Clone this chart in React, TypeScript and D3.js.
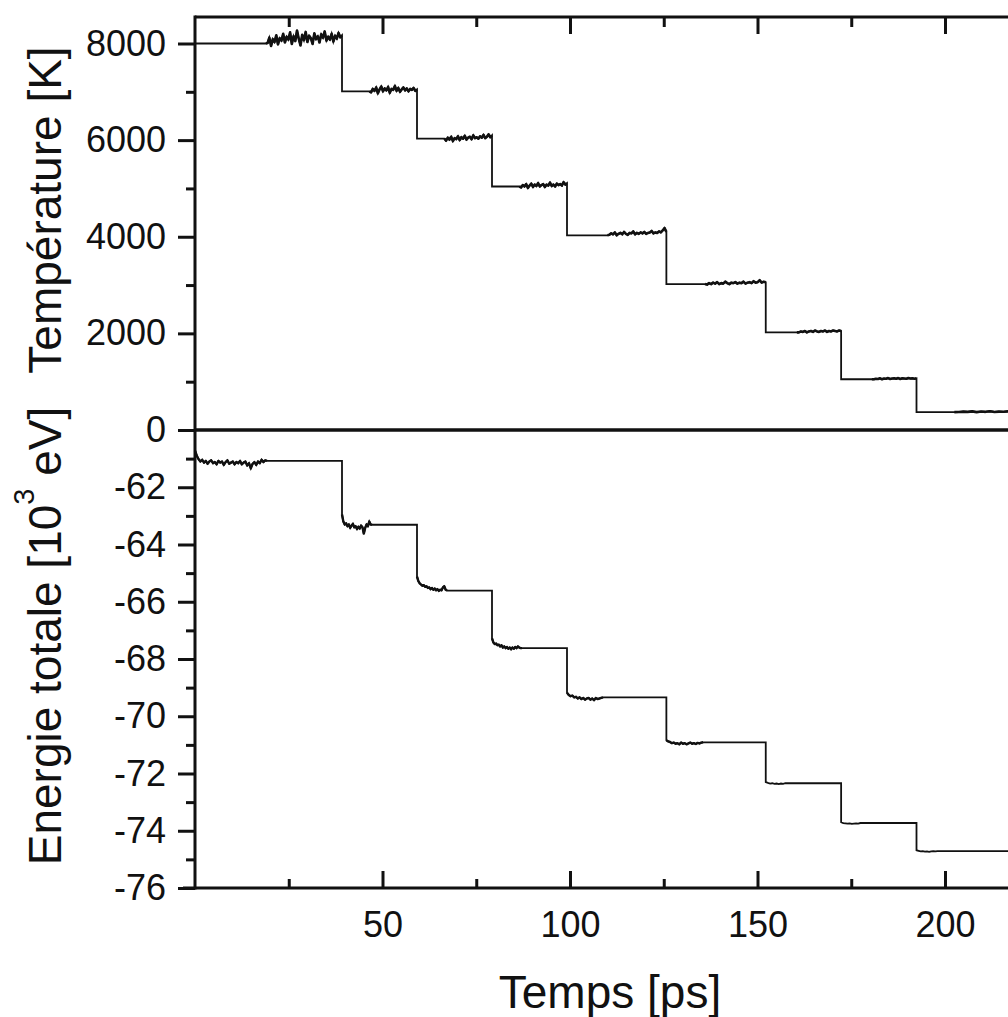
import React, { useRef, useEffect } from "react";
import * as d3 from "d3";

// début de chaque palier de température (ps)
const stepStart = [0, 39.2, 59.2, 79.2, 99.2, 125.7, 152.2, 172.3, 192.4];
const timeEnd = 250;

// panneau du haut : température [K]
const tempLevel = [8000, 7010, 6030, 5040, 4030, 3020, 2020, 1050, 370];
const tempNoiseStart = [18.9, 46.5, 66.5, 86.5, 110, 136, 160.5, 180.5, 202.5];

const tempNoise1 = [8010, 8120, 7950, 8090, 8030, 8170, 7980, 8110, 8060, 8200, 8020, 8140,
  8080, 8230, 7990, 8150, 8050, 8270, 8100, 7960, 8180, 8070, 8240, 8030, 8160, 8110, 7990,
  8210, 8090, 8150, 8020, 8190, 8120, 8250, 8060, 8140, 8080, 8200, 8040, 8160, 8100, 8220, 8130, 8170];
const tempNoise2 = [6990, 7060, 7020, 7090, 6970, 7050, 7110, 7010, 7070, 7030, 7100, 6980, 7060,
  7040, 7120, 7020, 7080, 7000, 7050, 7090, 7030, 7070, 7010, 7060, 7040, 7080, 7020, 7050];
const tempNoise3 = [5990, 6050, 6010, 6070, 5980, 6040, 6020, 6080, 6000, 6060, 6030, 6090, 6010,
  6050, 6070, 6020, 6100, 6040, 6060, 6030, 6080, 6050, 6110, 6040, 6070, 6120, 6060, 6100];
const tempNoise4 = [5020, 5070, 5040, 5090, 5010, 5060, 5100, 5030, 5080, 5050, 5110, 5040, 5070,
  5090, 5030, 5080, 5060, 5120, 5050, 5080, 5040, 5100, 5070, 5090, 5060, 5130, 5080, 5110];
const tempNoise5 = [4040, 4070, 4050, 4090, 4030, 4060, 4080, 4050, 4100, 4060, 4040, 4080, 4070,
  4110, 4050, 4080, 4060, 4090, 4070, 4100, 4060, 4080, 4090, 4120, 4070, 4090, 4080, 4110, 4090,
  4130, 4180, 4100];
const tempNoise6 = [3010, 3040, 3020, 3050, 3030, 3060, 3020, 3040, 3030, 3070, 3040, 3020, 3050,
  3040, 3060, 3030, 3050, 3040, 3070, 3030, 3050, 3060, 3040, 3080, 3050, 3060, 3100, 3050, 3070, 3060];
const tempNoise7 = [2020, 2040, 2030, 2050, 2020, 2040, 2050, 2030, 2060, 2040, 2030, 2050, 2040,
  2060, 2030, 2050, 2040, 2060, 2050, 2040, 2060, 2050];
const tempNoise8 = [1050, 1060, 1055, 1070, 1050, 1065, 1060, 1075, 1055, 1065, 1070, 1060, 1075,
  1055, 1070, 1065, 1060, 1075, 1065, 1070, 1060, 1070];
const tempNoise9 = [372, 380, 375, 385, 370, 382, 376, 388, 374, 381, 377, 386, 372, 380, 384, 375,
  382, 378, 387, 373, 381, 376, 385, 379, 374, 383, 377, 386, 380, 375, 384, 378, 382, 374, 386,
  379, 383, 376, 381, 378];
const tempNoise = [tempNoise1, tempNoise2, tempNoise3, tempNoise4, tempNoise5, tempNoise6,
  tempNoise7, tempNoise8, tempNoise9];

// panneau du bas : énergie totale [10^3 eV]
const energyLevel = [-61.08, -63.31, -65.61, -67.62, -69.34, -70.91, -72.34, -73.73, -74.71];
const energyNoiseEnd = [19.2, 47.2, 67.2, 87.2, 108.8, 135.5, 158, 178, 198];

const energyNoise1 = [-60.72, -60.9, -61.02, -61.1, -61.04, -61.14, -61.08, -61.18, -61.1, -61.06,
  -61.16, -61.12, -61.2, -61.08, -61.14, -61.1, -61.22, -61.12, -61.06, -61.18, -61.14, -61.1,
  -61.2, -61.12, -61.16, -61.08, -61.2, -61.14, -61.1, -61.24, -61.16, -61.34, -61.18, -61.12,
  -61.22, -61.1, -61.16, -61.04, -61.12, -61.06];
const energyNoise2 = [-62.95, -63.2, -63.3, -63.26, -63.36, -63.3, -63.42, -63.34, -63.28, -63.4,
  -63.36, -63.46, -63.38, -63.44, -63.34, -63.4, -63.62, -63.42, -63.3, -63.36, -63.2, -63.3];
const energyNoise3 = [-65.12, -65.28, -65.36, -65.4, -65.44, -65.42, -65.48, -65.46, -65.52, -65.5,
  -65.56, -65.52, -65.58, -65.54, -65.6, -65.56, -65.62, -65.58, -65.6, -65.5, -65.46, -65.58];
const energyNoise4 = [-67.28, -67.42, -67.48, -67.46, -67.52, -67.5, -67.56, -67.52, -67.6, -67.56,
  -67.62, -67.58, -67.64, -67.6, -67.66, -67.6, -67.64, -67.58, -67.62, -67.56, -67.6, -67.62];
const energyNoise5 = [-69.18, -69.26, -69.3, -69.28, -69.34, -69.32, -69.38, -69.34, -69.4, -69.36,
  -69.42, -69.38, -69.36, -69.42, -69.38, -69.44, -69.36, -69.4, -69.38, -69.36];
const energyNoise6 = [-70.84, -70.88, -70.9, -70.94, -70.92, -70.96, -70.94, -70.98, -70.92, -70.96,
  -70.94, -70.98, -70.95, -70.92, -70.96, -70.94, -70.97, -70.93, -70.95, -70.92];
const energyNoise7 = [-72.3, -72.33, -72.35, -72.34, -72.36, -72.35, -72.37, -72.35, -72.36, -72.34];
const energyNoise8 = [-73.7, -73.73, -73.74, -73.75, -73.74, -73.76, -73.75, -73.74, -73.75, -73.73];
const energyNoise9 = [-74.68, -74.7, -74.72, -74.71, -74.73, -74.72, -74.74, -74.72, -74.71, -74.72];
const energyNoise = [energyNoise1, energyNoise2, energyNoise3, energyNoise4, energyNoise5,
  energyNoise6, energyNoise7, energyNoise8, energyNoise9];

// graduations
const tempMajor = [0, 2000, 4000, 6000, 8000];
const tempMinor = [1000, 3000, 5000, 7000];
const energyMajor = [-76, -74, -72, -70, -68, -66, -64, -62];
const energyMinor = [-75, -73, -71, -69, -67, -65, -63, -61];
const timeMajor = [50, 100, 150, 200];
const timeMinor = [25, 75, 125, 175];

const W = 1008,
  H = 1017;
const left = 195,
  top = 17,
  mid = 430,
  bottom = 888;
const ink = "#111";
const font = "'Liberation Sans', Arial, Helvetica, sans-serif";

function App() {
  const ref = useRef<SVGSVGElement>(null);

  useEffect(() => {
    const svg = d3.select(ref.current);
    svg.selectAll("*").remove();

    const x = d3.scaleLinear().domain([0, timeEnd]).range([left, left + timeEnd * 3.75]);
    const yT = d3.scaleLinear().domain([0, 8000]).range([mid, 43.5]);
    const yE = d3.scaleLinear().domain([-76, -60]).range([bottom, mid]);

    // série température : palier lisse puis partie bruitée
    const tempPts: [number, number][] = [];
    const tempSegs: [number, number][][] = [];
    stepStart.forEach((t0, i) => {
      const t1 = i < stepStart.length - 1 ? stepStart[i + 1] : timeEnd;
      const ns = tempNoiseStart[i];
      const vals = tempNoise[i];
      tempPts.push([t0, tempLevel[i]], [ns, tempLevel[i]]);
      const seg: [number, number][] = [[ns, tempLevel[i]]];
      vals.forEach((v, j) => {
        const p: [number, number] = [ns + ((j + 1) / vals.length) * (t1 - ns), v];
        tempPts.push(p);
        seg.push(p);
      });
      tempSegs.push(seg);
    });

    // série énergie : partie bruitée puis palier lisse
    const energyPts: [number, number][] = [];
    const energySegs: [number, number][][] = [];
    stepStart.forEach((t0, i) => {
      const t1 = i < stepStart.length - 1 ? stepStart[i + 1] : timeEnd;
      const ne = energyNoiseEnd[i];
      const vals = energyNoise[i];
      const seg: [number, number][] = [];
      vals.forEach((v, j) => {
        seg.push([t0 + (j / vals.length) * (ne - t0), v]);
      });
      seg.push([ne, energyLevel[i]]);
      energyPts.push(...seg, [t1, energyLevel[i]]);
      energySegs.push(seg);
    });

    const lineT = d3
      .line<[number, number]>()
      .x(d => x(d[0]))
      .y(d => yT(d[1]));
    const lineE = d3
      .line<[number, number]>()
      .x(d => x(d[0]))
      .y(d => yE(d[1]));

    const axisStyle = (g: any) => {
      g.attr("font-family", null).attr("font-size", null);
      g.select(".domain").remove();
      g.selectAll("line").attr("stroke", ink).attr("stroke-width", 3);
      g.selectAll("text")
        .attr("fill", ink)
        .style("font-family", font)
        .style("font-size", "36px");
    };

    // axe gauche, haut
    svg
      .append("g")
      .attr("transform", `translate(${left},0)`)
      .call(
        d3
          .axisLeft(yT)
          .tickValues(tempMajor)
          .tickSize(17)
          .tickPadding(12)
          .tickFormat(d => String(d))
      )
      .call(axisStyle);
    svg
      .append("g")
      .attr("transform", `translate(${left},0)`)
      .call(d3.axisLeft(yT).tickValues(tempMinor).tickSize(9).tickFormat(() => ""))
      .call(axisStyle);

    // axe gauche, bas
    svg
      .append("g")
      .attr("transform", `translate(${left},0)`)
      .call(
        d3
          .axisLeft(yE)
          .tickValues(energyMajor)
          .tickSize(17)
          .tickPadding(12)
          .tickFormat(d => String(d))
      )
      .call(axisStyle);
    svg
      .append("g")
      .attr("transform", `translate(${left},0)`)
      .call(d3.axisLeft(yE).tickValues(energyMinor).tickSize(9).tickFormat(() => ""))
      .call(axisStyle);

    // axe du temps en bas (graduations vers l'intérieur)
    svg
      .append("g")
      .attr("transform", `translate(0,${bottom})`)
      .call(d3.axisBottom(x).tickValues(timeMajor).tickSize(-17).tickPadding(23))
      .call(axisStyle);
    svg
      .append("g")
      .attr("transform", `translate(0,${bottom})`)
      .call(d3.axisBottom(x).tickValues(timeMinor).tickSize(-9).tickFormat(() => ""))
      .call(axisStyle);

    // graduations du cadre supérieur
    svg
      .append("g")
      .attr("transform", `translate(0,${top})`)
      .call(d3.axisTop(x).tickValues(timeMajor).tickSize(-17).tickFormat(() => ""))
      .call(axisStyle);
    svg
      .append("g")
      .attr("transform", `translate(0,${top})`)
      .call(d3.axisTop(x).tickValues(timeMinor).tickSize(-10).tickFormat(() => ""))
      .call(axisStyle);

    // cadre
    const frame = svg.append("g").attr("stroke", ink).attr("fill", "none");
    frame.append("line").attr("x1", left).attr("x2", W).attr("y1", top).attr("y2", top).attr("stroke-width", 3);
    frame.append("line").attr("x1", left).attr("x2", W).attr("y1", mid).attr("y2", mid).attr("stroke-width", 3.5);
    frame.append("line").attr("x1", left - 12).attr("x2", W).attr("y1", bottom).attr("y2", bottom).attr("stroke-width", 3);
    frame.append("line").attr("x1", left).attr("x2", left).attr("y1", top - 1.5).attr("y2", bottom + 1.5).attr("stroke-width", 3);

    // courbes
    svg
      .append("path")
      .attr("d", lineT(tempPts))
      .attr("fill", "none")
      .attr("stroke", ink)
      .attr("stroke-width", 1.8);
    svg
      .append("path")
      .attr("d", lineE(energyPts))
      .attr("fill", "none")
      .attr("stroke", ink)
      .attr("stroke-width", 1.8);
    svg
      .append("g")
      .selectAll("path")
      .data(tempSegs)
      .enter()
      .append("path")
      .attr("d", d => lineT(d))
      .attr("fill", "none")
      .attr("stroke", ink)
      .attr("stroke-width", 2.6)
      .attr("stroke-linejoin", "round");
    svg
      .append("g")
      .selectAll("path")
      .data(energySegs.slice(0, 6))
      .enter()
      .append("path")
      .attr("d", d => lineE(d))
      .attr("fill", "none")
      .attr("stroke", ink)
      .attr("stroke-width", 2.4)
      .attr("stroke-linejoin", "round");

    // titres
    const title = (sel: any) =>
      sel.attr("fill", ink).style("font-family", font).style("font-size", "46px");

    svg
      .append("text")
      .attr("transform", `translate(61,210) rotate(-90)`)
      .attr("text-anchor", "middle")
      .text("Température [K]")
      .call(title);

    const et = svg
      .append("text")
      .attr("transform", `translate(61,636) rotate(-90)`)
      .attr("text-anchor", "middle")
      .call(title);
    et.append("tspan").text("Energie totale [10");
    et.append("tspan").attr("dy", -27).style("font-size", "29px").text("3");
    et.append("tspan").attr("dy", 27).text(" eV]");

    svg
      .append("text")
      .attr("x", 610)
      .attr("y", 1008)
      .attr("text-anchor", "middle")
      .text("Temps [ps]")
      .call(title);
  }, []);

  return (
    <svg
      ref={ref}
      width={W}
      height={H}
      style={{ position: "absolute", left: 0, top: 0, background: "#fff" }}
    />
  );
}

export default App;
